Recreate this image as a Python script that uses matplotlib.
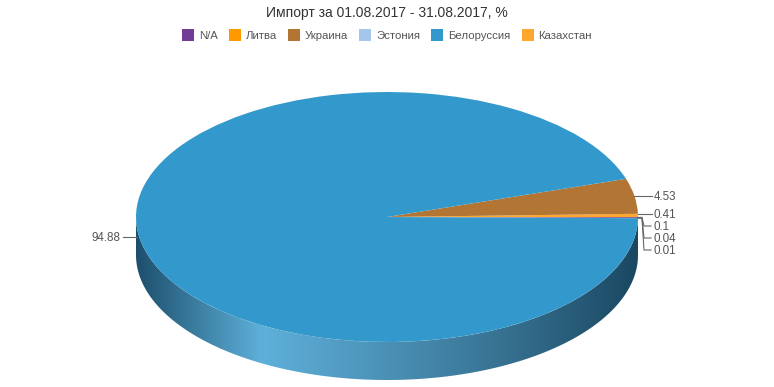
import numpy as np
import matplotlib.pyplot as plt
from matplotlib.transforms import Affine2D
from matplotlib.patches import Polygon, Rectangle
from matplotlib.colors import LinearSegmentedColormap, to_rgb

plt.rcParams['font.family'] = ['Liberation Sans', 'DejaVu Sans']

title = "Импорт за 01.08.2017 - 31.08.2017, %"
countries = ["N/A", "Литва", "Украина", "Эстония", "Белоруссия", "Казахстан"]
shares = [0.1, 0.04, 4.53, 0.01, 94.88, 0.41]
colors = ["#703c94", "#ff9900", "#b27534", "#a3c6ea", "#3399cc", "#ffa62f"]
# slice order going round the pie, counter-clockwise from 3 o'clock
draw_order = [3, 1, 0, 5, 2, 4]

W, H = 774, 387
cx, cy = 387, 217      # pie centre (pixels)
rx, ry = 251, 125      # ellipse radii
depth = 38             # side wall height

fig = plt.figure(figsize=(W / 100, H / 100), dpi=100)
ax = fig.add_axes([0, 0, 1, 1])

vals = [shares[i] for i in draw_order]
cols = [colors[i] for i in draw_order]
total = sum(shares)
start = -360 * sum(shares[i] for i in draw_order[:3]) / total

wedges, _ = ax.pie(vals, colors=cols, startangle=start, radius=1, center=(0, 0),
                   counterclock=True, wedgeprops=dict(linewidth=0))
ax.set_xlim(0, W)
ax.set_ylim(H, 0)
ax.set_aspect('auto')
ax.axis('off')

tr = Affine2D().scale(rx, -ry).translate(cx, cy) + ax.transData
for w in wedges:
    w.set_transform(tr)
    w.set_zorder(3)


def ell(t, dy=0.0):
    t = np.radians(t)
    return cx + rx * np.cos(t), cy - ry * np.sin(t) + dy


# side wall, front half only
side_cmap = LinearSegmentedColormap.from_list(
    'side', ['#1d4f6d', '#5eb0da', '#4b91b6', '#356f8e', '#1a4862'])
grad = np.linspace(0, 1, 256)[None, :]
for w, c in zip(wedges, cols):
    t1, t2 = w.theta1 % 360, w.theta2 % 360
    if t2 <= t1:
        t2 += 360
    a, b = max(t1, 180), min(t2, 360)
    if b <= a:
        continue
    ts = np.linspace(a, b, 200)
    tx, ty = ell(ts)
    bx, by = ell(ts[::-1], depth)
    poly = Polygon(np.column_stack([np.r_[tx, bx], np.r_[ty, by]]), closed=True,
                   facecolor=tuple(0.6 * v for v in to_rgb(c)), linewidth=0, zorder=2)
    ax.add_patch(poly)
    if c == "#3399cc":
        poly.set_facecolor('none')
        im = ax.imshow(grad, cmap=side_cmap, aspect='auto', zorder=2,
                       extent=(cx - rx, cx + rx, cy + ry + depth, cy - 5))
        im.set_clip_path(poly)

ax.set_xlim(0, W)
ax.set_ylim(H, 0)

# data labels
txt_kw = dict(fontsize=8.4, color='#555555', va='center')
line_kw = dict(color='#666666', lw=0.8, zorder=4)
lab = {draw_order[i]: w for i, w in enumerate(wedges)}
label_x = 654
small_y = {0: 226, 1: 238, 3: 250}
for i, v in enumerate(shares):
    w = lab[i]
    mid = (w.theta1 + w.theta2) / 2
    ex, ey = ell(mid)
    if i == 4:
        ax.plot([ex - 2, ex - 16], [ey + 1, ey + 1], **line_kw)
        ax.text(ex - 18, ey + 2, str(v), ha='right', **txt_kw)
    elif i in small_y:
        ly = small_y[i]
        ax.plot([ex, ex + 4, ex + 6, label_x - 3], [ey, ey, ly, ly], **line_kw)
        ax.text(label_x, ly + 1, str(v), ha='left', **txt_kw)
    else:
        ly = ey if i == 2 else ey - 1
        ax.plot([ex, label_x - 2], [ly, ly], **line_kw)
        ax.text(label_x, ly + 1, str(v), ha='left', **txt_kw)

ax.text(cx, 13, title, ha='center', va='center', fontsize=10, color='#333333')

# legend row
renderer = fig.canvas.get_renderer()
leg_y = 35
texts = [ax.text(0, leg_y + 1, n, fontsize=8.2, color='#555555', va='center', ha='left')
         for n in countries]
widths = [t.get_window_extent(renderer).width for t in texts]
box, pad, gap = 12, 5, 11
x = cx - (sum(box + pad + w for w in widths) + gap * (len(widths) - 1)) / 2
for t, w, c in zip(texts, widths, colors):
    ax.add_patch(Rectangle((x, leg_y - box / 2), box, box, facecolor=c, linewidth=0))
    t.set_x(x + box + pad)
    x += box + pad + w + gap

fig.savefig('out.png', dpi=100)
